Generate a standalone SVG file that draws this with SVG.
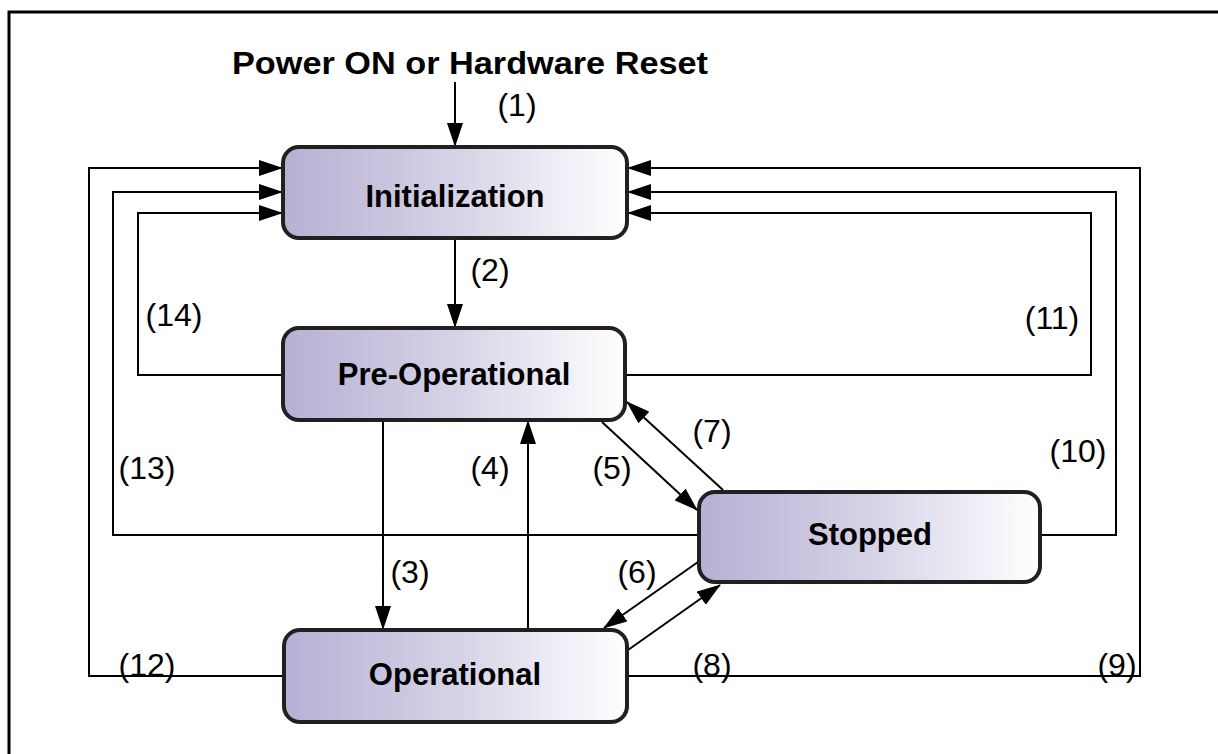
<svg xmlns="http://www.w3.org/2000/svg" width="1218" height="754" viewBox="0 0 1218 754">
<defs>
<linearGradient id="g" x1="0" y1="0" x2="1" y2="0">
<stop offset="0" stop-color="#b7b0d4"/>
<stop offset="0.5" stop-color="#d6d2e6"/>
<stop offset="1" stop-color="#ffffff"/>
</linearGradient>
<marker id="ah" markerUnits="userSpaceOnUse" markerWidth="24" markerHeight="16" refX="23" refY="8" orient="auto">
<path d="M0,0 L24,8 L0,16 z" fill="#000"/>
</marker>
<style>
.node rect{fill:url(#g);stroke:#231f20;stroke-width:4}
.node text{font-family:"Liberation Sans",Arial,sans-serif;font-weight:bold;font-size:31px;text-anchor:middle;fill:#000}
.c{fill:none;stroke:#000;stroke-width:2}
.a{marker-end:url(#ah)}
.lbl{font-family:"Liberation Sans",Arial,sans-serif;font-size:32px;text-anchor:middle;fill:#000}
.title{font-family:"Liberation Sans",Arial,sans-serif;font-size:31px;font-weight:bold;fill:#000}
</style>
</defs>
<rect x="0" y="0" width="1218" height="754" fill="#fff"/>
<rect x="9" y="12" width="1230" height="770" fill="none" stroke="#000" stroke-width="3"/>
<text class="title" x="232" y="74" textLength="476" lengthAdjust="spacingAndGlyphs">Power ON or Hardware Reset</text>
<g id="connectors">
<line class="c a" x1="455" y1="82" x2="455" y2="146"/>
<line class="c a" x1="455" y1="240" x2="455" y2="327"/>
<polyline class="c a" points="284,676 89,676 89,168 282,168"/>
<polyline class="c a" points="699,535 113,535 113,192 282,192"/>
<polyline class="c a" points="283,375 138,375 138,213 282,213"/>
<polyline class="c a" points="627,676 1140,676 1140,168 628,168"/>
<polyline class="c a" points="1040,535 1116,535 1116,192 628,192"/>
<polyline class="c a" points="625,375 1091,375 1091,213 628,213"/>
<line class="c a" x1="383" y1="422" x2="383" y2="629"/>
<line class="c a" x1="528" y1="630" x2="528" y2="421"/>
<line class="c a" x1="602" y1="422" x2="697" y2="510"/>
<line class="c a" x1="723" y1="490" x2="627" y2="402"/>
<line class="c a" x1="698" y1="562" x2="604" y2="628"/>
<line class="c a" x1="628" y1="650" x2="720" y2="585"/>
</g>
<g id="init" class="node"><rect x="283" y="147" width="344" height="91" rx="16"/><text x="455" y="207">Initialization</text></g>
<g id="preop" class="node"><rect x="283" y="328" width="342" height="92" rx="16"/><text x="454" y="385">Pre-Operational</text></g>
<g id="stopped" class="node"><rect x="699" y="492" width="341" height="90" rx="16"/><text x="870" y="545">Stopped</text></g>
<g id="op" class="node"><rect x="284" y="630" width="343" height="92" rx="16"/><text x="455" y="685">Operational</text></g>
<g id="labels">
<text class="lbl" x="517" y="116">(1)</text>
<text class="lbl" x="490" y="281">(2)</text>
<text class="lbl" x="174" y="326">(14)</text>
<text class="lbl" x="1052" y="329">(11)</text>
<text class="lbl" x="712" y="442">(7)</text>
<text class="lbl" x="1078" y="462">(10)</text>
<text class="lbl" x="147" y="479">(13)</text>
<text class="lbl" x="490" y="479">(4)</text>
<text class="lbl" x="612" y="479">(5)</text>
<text class="lbl" x="410" y="583">(3)</text>
<text class="lbl" x="637" y="583">(6)</text>
<text class="lbl" x="147" y="676">(12)</text>
<text class="lbl" x="712" y="676">(8)</text>
<text class="lbl" x="1117" y="676">(9)</text>
</g>
</svg>
